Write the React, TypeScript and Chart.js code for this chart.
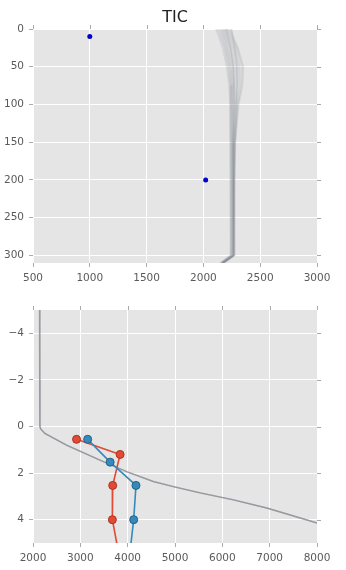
import React, { useEffect, useRef } from "react";
import { Chart, registerables } from "chart.js";

Chart.register(...registerables);

// ---------- Top panel (TIC) ----------
const topTitle = "TIC";
const topDepths = [0, 10, 25, 50, 75, 100, 150, 200, 250, 300, 310];
const topRunA = [2110, 2135, 2170, 2205, 2226, 2234, 2237, 2237, 2237, 2238, 2148];
const topRunB = [2125, 2150, 2185, 2218, 2236, 2242, 2242, 2242, 2242, 2242, 2152];
const topRunC = [2140, 2162, 2195, 2228, 2244, 2249, 2247, 2247, 2247, 2247, 2156];
const topRunD = [2155, 2175, 2205, 2238, 2251, 2254, 2252, 2251, 2251, 2251, 2160];
const topRunE = [2165, 2185, 2215, 2248, 2259, 2260, 2256, 2255, 2255, 2255, 2163];
const topRunF = [2175, 2195, 2228, 2260, 2267, 2265, 2259, 2258, 2258, 2258, 2166];
const topRunG = [2185, 2205, 2240, 2272, 2277, 2272, 2263, 2261, 2261, 2261, 2168];
const topRunH = [2195, 2218, 2255, 2288, 2290, 2280, 2267, 2264, 2264, 2264, 2170];
const topRunI = [2205, 2230, 2270, 2305, 2303, 2288, 2271, 2267, 2267, 2267, 2172];
const topRunJ = [2215, 2240, 2282, 2322, 2318, 2296, 2275, 2270, 2270, 2270, 2174];
const topRunK = [2228, 2252, 2295, 2340, 2332, 2304, 2279, 2273, 2273, 2273, 2176];
const topRunL = [2240, 2262, 2305, 2352, 2344, 2310, 2282, 2276, 2276, 2276, 2178];
const topRunM = [2250, 2258, 2275, 2295, 2296, 2290, 2276, 2268, 2268, 2268, 2180];
const topRunN = [2200, 2215, 2240, 2262, 2270, 2270, 2264, 2262, 2262, 2262, 2170];
const topRuns = [topRunA, topRunB, topRunC, topRunD, topRunE, topRunF, topRunG, topRunH, topRunI, topRunJ, topRunK, topRunL, topRunM, topRunN];
const topPointsX = [1000, 2020];
const topPointsDepth = [10, 200];
const topXTicks = [500, 1000, 1500, 2000, 2500, 3000];
const topYTicks = [0, 50, 100, 150, 200, 250, 300];
const topXRange = [500, 3000];
const topYRange = [0, 310];

// ---------- Bottom panel ----------
const logDepths = [-5, -2, 0, 0.1, 0.3, 0.8, 1.44, 1.94, 2.36, 2.58, 2.85, 3.15, 3.5, 4.14];
const logXA = [2138, 2140, 2145, 2160, 2250, 2706, 3411, 3976, 4540, 4964, 5529, 6234, 6940, 8000];
const logXB = [2146, 2148, 2152, 2165, 2255, 2712, 3418, 3982, 4546, 4970, 5535, 6240, 6946, 8006];
const redDepths = [0.55, 1.2, 2.53, 4.0, 5.5];
const redX = [2920, 3840, 3684, 3677, 3815];
const blueDepths = [0.55, 1.53, 2.53, 4.0, 5.5];
const blueX = [3155, 3630, 4176, 4127, 4043];
const markerRadius = [4, 4, 4, 4, 0];
const bottomXTicks = [2000, 3000, 4000, 5000, 6000, 7000, 8000];
const bottomYTicks = [-4, -2, 0, 2, 4];
const bottomXRange = [2000, 8000];
const bottomYRange = [-5, 5];

const FONT = "'DejaVu Sans', 'Liberation Sans', sans-serif";
const TICK_COLOR = "#5a5a5a";

const fmt = (v: number) => String(v).replace("-", "\u2212");

const ggplotPlugin = {
  id: "ggplotFrame",
  beforeDraw(chart: any) {
    const { ctx, chartArea: a } = chart;
    ctx.save();
    ctx.fillStyle = "#E5E5E5";
    ctx.fillRect(a.left, a.top, a.right - a.left, a.bottom - a.top);
    ctx.restore();
  },
  afterDraw(chart: any) {
    const { ctx, chartArea: a, scales } = chart;
    ctx.save();
    ctx.strokeStyle = "#aaaaaa";
    ctx.lineWidth = 1;
    ctx.beginPath();
    scales.x.ticks.forEach((t: any) => {
      const px = Math.round(scales.x.getPixelForValue(t.value)) + 0.5;
      ctx.moveTo(px, a.top);
      ctx.lineTo(px, a.top - 4);
    });
    scales.y.ticks.forEach((t: any) => {
      const py = Math.round(scales.y.getPixelForValue(t.value)) + 0.5;
      ctx.moveTo(a.right, py);
      ctx.lineTo(a.right + 4, py);
    });
    ctx.stroke();
    ctx.restore();
  },
};

function axis(range: number[], ticks: number[], reverse: boolean, fit: (s: any) => void) {
  return {
    type: "linear",
    min: range[0],
    max: range[1],
    reverse,
    afterBuildTicks: (s: any) => {
      s.ticks = ticks.map((v) => ({ value: v }));
    },
    afterFit: fit,
    border: { display: false },
    grid: {
      color: "#ffffff",
      lineWidth: 1,
      drawTicks: true,
      tickLength: 4,
      tickColor: "#aaaaaa",
    },
    ticks: {
      color: TICK_COLOR,
      font: { family: FONT, size: 10.5 },
      padding: 5,
      maxRotation: 0,
      autoSkip: false,
      callback: (v: any) => fmt(Number(v)),
    },
  };
}

function pairs(xs: number[], ys: number[]) {
  return xs.map((x, i) => ({ x, y: ys[i] }));
}

function TopChart() {
  const ref = useRef<HTMLCanvasElement>(null);
  useEffect(() => {
    const datasets: any[] = [
      {
        data: pairs(topPointsX, topPointsDepth),
        showLine: false,
        pointRadius: 2.5,
        pointBackgroundColor: "#0000cc",
        pointBorderColor: "#0000cc",
        pointBorderWidth: 0,
      },
      ...topRuns.map((run) => ({
        data: pairs(run, topDepths),
        showLine: true,
        pointRadius: 0,
        borderColor: "rgba(120,125,136,0.16)",
        borderWidth: 1.6,
      })),
    ];
    const chart = new Chart(ref.current!, {
      type: "scatter",
      data: { datasets },
      options: {
        animation: false,
        responsive: false,
        layout: { padding: { left: 0, right: 29, top: 0, bottom: 0 } },
        plugins: {
          legend: { display: false },
          tooltip: { enabled: false },
          title: {
            display: true,
            text: topTitle,
            fullSize: false,
            color: "#222222",
            font: { family: FONT, size: 16, weight: "normal" },
            padding: { top: 8, bottom: 1.8 },
          },
        },
        scales: {
          x: axis(topXRange, topXTicks, false, (s: any) => { s.height = 27; }),
          y: axis(topYRange, topYTicks, true, (s: any) => { s.width = 33; }),
        },
      } as any,
      plugins: [ggplotPlugin],
    });
    return () => chart.destroy();
  }, []);
  return <canvas ref={ref} width={346} height={290} style={{ display: "block" }} />;
}

function BottomChart() {
  const ref = useRef<HTMLCanvasElement>(null);
  useEffect(() => {
    const datasets: any[] = [
      {
        data: pairs(blueX, blueDepths),
        showLine: true,
        borderColor: "#348ABD",
        borderWidth: 1.6,
        pointRadius: markerRadius,
        pointBackgroundColor: "#348ABD",
        pointBorderColor: "#25607f",
        pointBorderWidth: 1,
      },
      {
        data: pairs(redX, redDepths),
        showLine: true,
        borderColor: "#E24A33",
        borderWidth: 1.6,
        pointRadius: markerRadius,
        pointBackgroundColor: "#E24A33",
        pointBorderColor: "#a83424",
        pointBorderWidth: 1,
      },
      {
        data: pairs(logXA, logDepths),
        showLine: true,
        pointRadius: 0,
        borderColor: "rgba(140,142,150,0.8)",
        borderWidth: 1.4,
      },
      {
        data: pairs(logXB, logDepths),
        showLine: true,
        pointRadius: 0,
        borderColor: "rgba(150,152,160,0.5)",
        borderWidth: 1.2,
      },
    ];
    const chart = new Chart(ref.current!, {
      type: "scatter",
      data: { datasets },
      options: {
        animation: false,
        responsive: false,
        layout: { padding: { left: 0, right: 29, top: 20, bottom: 0 } },
        plugins: {
          legend: { display: false },
          tooltip: { enabled: false },
        },
        scales: {
          x: axis(bottomXRange, bottomXTicks, false, (s: any) => { s.height = 27; }),
          y: axis(bottomYRange, bottomYTicks, true, (s: any) => { s.width = 33; }),
        },
      } as any,
      plugins: [ggplotPlugin],
    });
    return () => chart.destroy();
  }, []);
  return <canvas ref={ref} width={346} height={280} style={{ display: "block" }} />;
}

export default function App() {
  return (
    <div style={{ position: "fixed", left: 0, top: 0, width: 346, height: 570, background: "#ffffff" }}>
      <TopChart />
      <BottomChart />
    </div>
  );
}
